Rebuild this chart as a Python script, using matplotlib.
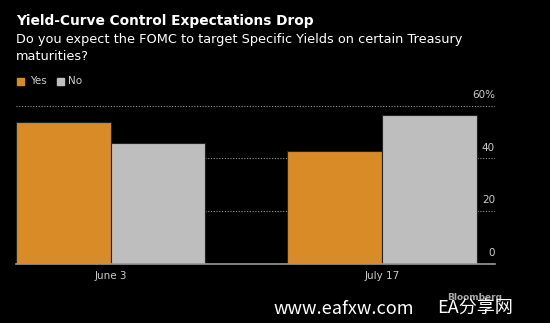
import numpy as np
import matplotlib.pyplot as plt

# survey answers, % of respondents
dates = ['June 3', 'July 17']
yes_vals = [53.7, 42.9]
no_vals = [45.7, 56.5]
y_ticks = [0, 20, 40, 60]
y_labels = ['0', '20', '40', '60%']

orange = '#D98B28'
grey = '#BEBEBE'

fig = plt.figure(figsize=(5.5, 3.23), dpi=100, facecolor='black')
ax = fig.add_axes([16/550, 1 - 264/323, (495-16)/550, (264-106)/323 + 0.001])
ax.set_facecolor('black')

x = np.arange(len(dates))
w = 0.349
ax.bar(x - w/2, yes_vals, w, color=orange, edgecolor='#222222', linewidth=0.8, zorder=3)
ax.bar(x + w/2, no_vals, w, color=grey, edgecolor='#222222', linewidth=0.8, zorder=3)

ax.set_xlim(-w, 1.4165)
ax.set_ylim(0, 60)

# dotted grid lines with labels sitting above them on the right
for t in y_ticks[1:]:
    ax.axhline(t, color='#999999', linestyle=(0, (1, 1.5)), linewidth=0.8, zorder=1)
for t, lab in zip(y_ticks, y_labels):
    ax.text(1.0, t + 2.2, lab, transform=ax.get_yaxis_transform(), ha='right', va='bottom',
            color='#CCCCCC', fontsize=7.5)
ax.axhline(0, color='#999999', linewidth=1.2, zorder=4, clip_on=False)

ax.set_yticks([])
ax.set_xticks(x)
ax.set_xticklabels(dates, color='#CCCCCC', fontsize=7.5)
ax.tick_params(axis='x', length=0, pad=5)
for s in ax.spines.values():
    s.set_visible(False)

fig.text(16/550, 1 - 21/323, 'Yield-Curve Control Expectations Drop', color='white',
         fontsize=9.9, fontweight='bold', va='center')
fig.text(16/550, 1 - 39/323, 'Do you expect the FOMC to target Specific Yields on certain Treasury',
         color='white', fontsize=9.25, va='center')
fig.text(16/550, 1 - 56/323, 'maturities?', color='white', fontsize=9.25, va='center')

# legend
fig.patches.append(plt.Rectangle((17/550, 1 - 85/323), 7/550, 7/323, color=orange,
                                 transform=fig.transFigure, figure=fig))
fig.text(30/550, 1 - 81/323, 'Yes', color='#CCCCCC', fontsize=7.5, va='center')
fig.patches.append(plt.Rectangle((57/550, 1 - 85/323), 7/550, 7/323, color=grey,
                                 transform=fig.transFigure, figure=fig))
fig.text(68/550, 1 - 81/323, 'No', color='#CCCCCC', fontsize=7.5, va='center')

fig.text(502/550, 1 - 298/323, 'Bloomberg', color='#AAAAAA', fontsize=6.5,
         fontweight='bold', ha='right', va='center')
# watermark
cjk = ['Noto Sans CJK SC', 'DejaVu Sans']
fig.text(274/550, 1 - 309/323, 'www.eafxw.com', color='white', fontsize=13,
         family=cjk, va='center')
fig.text(437/550, 1 - 309/323, 'EA分享网', color='white', fontsize=13,
         family=cjk, va='center')

fig.savefig('out.png', dpi=100, facecolor='black')
